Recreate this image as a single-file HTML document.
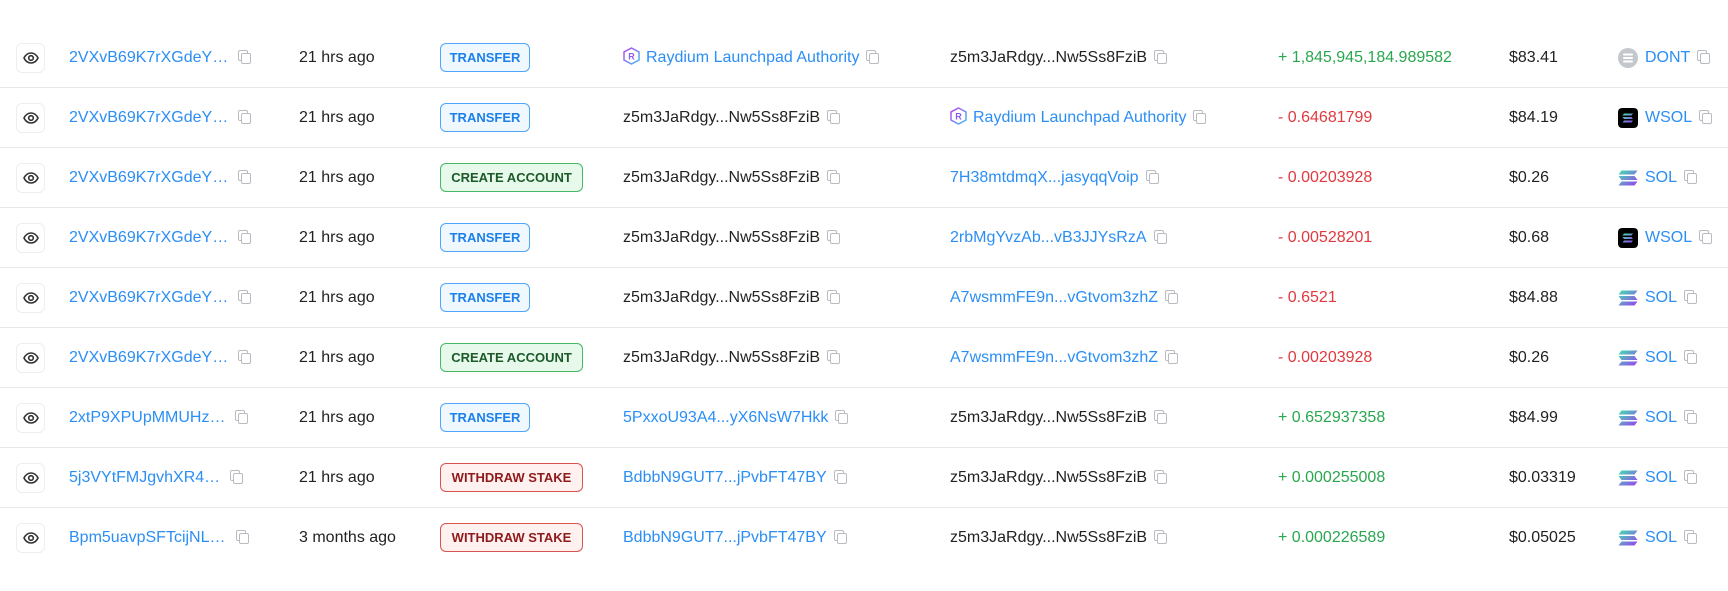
<!DOCTYPE html>
<html><head><meta charset="utf-8"><style>
*{margin:0;padding:0;box-sizing:border-box}
body{width:1728px;height:591px;background:#fff;font-family:"Liberation Sans",Arial,sans-serif;font-size:16px;color:#222;position:relative;overflow:hidden}
.row{position:absolute;left:0;width:1728px;height:60px}
.row.sep{border-bottom:1px solid #e6e8eb}
.c{position:absolute;top:0;height:60px;line-height:60px;white-space:nowrap}
.eye{position:absolute;left:16px;top:15px;width:29px;height:30px;border:1px solid #eceef0;border-radius:6px}
.eye svg{position:absolute;left:6px;top:7px}
.b{color:#2b8ef5}
.g{color:#2aa64f}
.r{color:#e0393e}
.cp{display:inline-block;width:12px;height:13px;position:relative;vertical-align:-1px;margin-left:7px}
.cp:before{content:"";position:absolute;left:0;top:0;width:8px;height:9px;border:1.3px solid #b8bcc2;border-radius:2px}
.cp:after{content:"";position:absolute;left:3px;top:3px;width:8px;height:9px;border:1.3px solid #b8bcc2;border-radius:2px;background:#fff}
.h .cp{margin-left:10px}
.badge{position:absolute;left:440px;top:15px;height:29px;line-height:27px;border-radius:6px;border:1px solid;font-size:13px;font-weight:bold;padding:0 8px;text-align:center}
.tr{width:90px;border-color:#4ea5fb;background:#eff7ff;color:#1c80ea}
.ca{width:143px;border-color:#44b865;background:#e7f9ea;color:#1c5a2a}
.ws{width:143px;border-color:#d95450;background:#fff1f0;color:#8e1b1b}
.ray{display:inline-block;vertical-align:-3px;margin-right:6px}
.tk{position:absolute;left:1618px;top:20px;width:20px;height:20px}
.tl{left:1645px}
</style></head><body>

<div class="row sep" style="top:28px">
<div class="eye"><svg width="16" height="14" viewBox="0 0 16 14"><path d="M1 7C3 3 5.5 2 8 2s5 1 7 5c-2 4-4.5 5-7 5S3 11 1 7z" fill="none" stroke="#333" stroke-width="1.6"/><circle cx="8" cy="7" r="2.3" fill="none" stroke="#333" stroke-width="1.6"/></svg></div>
<span class="c b h" style="left:69px">2VXvB69K7rXGdeY…<span class="cp"></span></span>
<span class="c" style="left:299px">21 hrs ago</span>
<span class="badge tr">TRANSFER</span>
<span class="c b" style="left:623px"><svg class="ray" width="17" height="18" viewBox="0 0 17 18"><defs><linearGradient id="rg" x1="0" y1="0" x2="1" y2="1"><stop offset="0" stop-color="#c040f0"/><stop offset="1" stop-color="#40c0f0"/></linearGradient><linearGradient id="sg" x1="0" y1="0" x2="1" y2="1"><stop offset="0" stop-color="#3fe0b0"/><stop offset="1" stop-color="#9a40f0"/></linearGradient></defs><path d="M8.5 1L16 5v8l-7.5 4L1 13V5z" fill="none" stroke="url(#rg)" stroke-width="1.5"/><text x="5.3" y="12.5" font-size="9" font-family="Liberation Sans" fill="#8a5cf0" font-weight="bold">R</text></svg>Raydium Launchpad Authority<span class="cp"></span></span>
<span class="c" style="left:950px">z5m3JaRdgy...Nw5Ss8FziB<span class="cp"></span></span>
<span class="c g" style="left:1278px">+ 1,845,945,184.989582</span>
<span class="c" style="left:1509px">$83.41</span>
<svg class="tk" viewBox="0 0 20 20"><circle cx="10" cy="10" r="10" fill="#c4c7cc"/><rect x="5" y="5.5" width="10" height="2" rx="1" fill="#fff"/><rect x="5" y="9" width="10" height="2" rx="1" fill="#fff"/><rect x="5" y="12.5" width="10" height="2" rx="1" fill="#fff"/></svg>
<span class="c b tl">DONT<span class="cp"></span></span>
</div>

<div class="row sep" style="top:88px">
<div class="eye"><svg width="16" height="14" viewBox="0 0 16 14"><path d="M1 7C3 3 5.5 2 8 2s5 1 7 5c-2 4-4.5 5-7 5S3 11 1 7z" fill="none" stroke="#333" stroke-width="1.6"/><circle cx="8" cy="7" r="2.3" fill="none" stroke="#333" stroke-width="1.6"/></svg></div>
<span class="c b h" style="left:69px">2VXvB69K7rXGdeY…<span class="cp"></span></span>
<span class="c" style="left:299px">21 hrs ago</span>
<span class="badge tr">TRANSFER</span>
<span class="c" style="left:623px">z5m3JaRdgy...Nw5Ss8FziB<span class="cp"></span></span>
<span class="c b" style="left:950px"><svg class="ray" width="17" height="18" viewBox="0 0 17 18"><path d="M8.5 1L16 5v8l-7.5 4L1 13V5z" fill="none" stroke="url(#rg)" stroke-width="1.5"/><text x="5.3" y="12.5" font-size="9" font-family="Liberation Sans" fill="#8a5cf0" font-weight="bold">R</text></svg>Raydium Launchpad Authority<span class="cp"></span></span>
<span class="c r" style="left:1278px">- 0.64681799</span>
<span class="c" style="left:1509px">$84.19</span>
<svg class="tk" viewBox="0 0 20 20"><rect width="20" height="20" rx="4" fill="#000"/><path d="M6 5.5h9l-1.5 2h-9zM4.5 9h9l1.5 2h-9zM6 12.5h9l-1.5 2h-9z" fill="url(#sg)"/></svg>
<span class="c b tl">WSOL<span class="cp"></span></span>
</div>

<div class="row sep" style="top:148px">
<div class="eye"><svg width="16" height="14" viewBox="0 0 16 14"><path d="M1 7C3 3 5.5 2 8 2s5 1 7 5c-2 4-4.5 5-7 5S3 11 1 7z" fill="none" stroke="#333" stroke-width="1.6"/><circle cx="8" cy="7" r="2.3" fill="none" stroke="#333" stroke-width="1.6"/></svg></div>
<span class="c b h" style="left:69px">2VXvB69K7rXGdeY…<span class="cp"></span></span>
<span class="c" style="left:299px">21 hrs ago</span>
<span class="badge ca">CREATE ACCOUNT</span>
<span class="c" style="left:623px">z5m3JaRdgy...Nw5Ss8FziB<span class="cp"></span></span>
<span class="c b" style="left:950px">7H38mtdmqX...jasyqqVoip<span class="cp"></span></span>
<span class="c r" style="left:1278px">- 0.00203928</span>
<span class="c" style="left:1509px">$0.26</span>
<svg class="tk" viewBox="0 0 20 20"><path d="M3.5 2.5h16l-3 4H0.5zM0.5 8h16l3 4h-16zM3.5 13.5h16l-3 4H0.5z" fill="url(#sg)"/></svg>
<span class="c b tl">SOL<span class="cp"></span></span>
</div>

<div class="row sep" style="top:208px">
<div class="eye"><svg width="16" height="14" viewBox="0 0 16 14"><path d="M1 7C3 3 5.5 2 8 2s5 1 7 5c-2 4-4.5 5-7 5S3 11 1 7z" fill="none" stroke="#333" stroke-width="1.6"/><circle cx="8" cy="7" r="2.3" fill="none" stroke="#333" stroke-width="1.6"/></svg></div>
<span class="c b h" style="left:69px">2VXvB69K7rXGdeY…<span class="cp"></span></span>
<span class="c" style="left:299px">21 hrs ago</span>
<span class="badge tr">TRANSFER</span>
<span class="c" style="left:623px">z5m3JaRdgy...Nw5Ss8FziB<span class="cp"></span></span>
<span class="c b" style="left:950px">2rbMgYvzAb...vB3JJYsRzA<span class="cp"></span></span>
<span class="c r" style="left:1278px">- 0.00528201</span>
<span class="c" style="left:1509px">$0.68</span>
<svg class="tk" viewBox="0 0 20 20"><rect width="20" height="20" rx="4" fill="#000"/><path d="M6 5.5h9l-1.5 2h-9zM4.5 9h9l1.5 2h-9zM6 12.5h9l-1.5 2h-9z" fill="url(#sg)"/></svg>
<span class="c b tl">WSOL<span class="cp"></span></span>
</div>

<div class="row sep" style="top:268px">
<div class="eye"><svg width="16" height="14" viewBox="0 0 16 14"><path d="M1 7C3 3 5.5 2 8 2s5 1 7 5c-2 4-4.5 5-7 5S3 11 1 7z" fill="none" stroke="#333" stroke-width="1.6"/><circle cx="8" cy="7" r="2.3" fill="none" stroke="#333" stroke-width="1.6"/></svg></div>
<span class="c b h" style="left:69px">2VXvB69K7rXGdeY…<span class="cp"></span></span>
<span class="c" style="left:299px">21 hrs ago</span>
<span class="badge tr">TRANSFER</span>
<span class="c" style="left:623px">z5m3JaRdgy...Nw5Ss8FziB<span class="cp"></span></span>
<span class="c b" style="left:950px">A7wsmmFE9n...vGtvom3zhZ<span class="cp"></span></span>
<span class="c r" style="left:1278px">- 0.6521</span>
<span class="c" style="left:1509px">$84.88</span>
<svg class="tk" viewBox="0 0 20 20"><path d="M3.5 2.5h16l-3 4H0.5zM0.5 8h16l3 4h-16zM3.5 13.5h16l-3 4H0.5z" fill="url(#sg)"/></svg>
<span class="c b tl">SOL<span class="cp"></span></span>
</div>

<div class="row sep" style="top:328px">
<div class="eye"><svg width="16" height="14" viewBox="0 0 16 14"><path d="M1 7C3 3 5.5 2 8 2s5 1 7 5c-2 4-4.5 5-7 5S3 11 1 7z" fill="none" stroke="#333" stroke-width="1.6"/><circle cx="8" cy="7" r="2.3" fill="none" stroke="#333" stroke-width="1.6"/></svg></div>
<span class="c b h" style="left:69px">2VXvB69K7rXGdeY…<span class="cp"></span></span>
<span class="c" style="left:299px">21 hrs ago</span>
<span class="badge ca">CREATE ACCOUNT</span>
<span class="c" style="left:623px">z5m3JaRdgy...Nw5Ss8FziB<span class="cp"></span></span>
<span class="c b" style="left:950px">A7wsmmFE9n...vGtvom3zhZ<span class="cp"></span></span>
<span class="c r" style="left:1278px">- 0.00203928</span>
<span class="c" style="left:1509px">$0.26</span>
<svg class="tk" viewBox="0 0 20 20"><path d="M3.5 2.5h16l-3 4H0.5zM0.5 8h16l3 4h-16zM3.5 13.5h16l-3 4H0.5z" fill="url(#sg)"/></svg>
<span class="c b tl">SOL<span class="cp"></span></span>
</div>

<div class="row sep" style="top:388px">
<div class="eye"><svg width="16" height="14" viewBox="0 0 16 14"><path d="M1 7C3 3 5.5 2 8 2s5 1 7 5c-2 4-4.5 5-7 5S3 11 1 7z" fill="none" stroke="#333" stroke-width="1.6"/><circle cx="8" cy="7" r="2.3" fill="none" stroke="#333" stroke-width="1.6"/></svg></div>
<span class="c b h" style="left:69px">2xtP9XPUpMMUHz…<span class="cp"></span></span>
<span class="c" style="left:299px">21 hrs ago</span>
<span class="badge tr">TRANSFER</span>
<span class="c b" style="left:623px">5PxxoU93A4...yX6NsW7Hkk<span class="cp"></span></span>
<span class="c" style="left:950px">z5m3JaRdgy...Nw5Ss8FziB<span class="cp"></span></span>
<span class="c g" style="left:1278px">+ 0.652937358</span>
<span class="c" style="left:1509px">$84.99</span>
<svg class="tk" viewBox="0 0 20 20"><path d="M3.5 2.5h16l-3 4H0.5zM0.5 8h16l3 4h-16zM3.5 13.5h16l-3 4H0.5z" fill="url(#sg)"/></svg>
<span class="c b tl">SOL<span class="cp"></span></span>
</div>

<div class="row sep" style="top:448px">
<div class="eye"><svg width="16" height="14" viewBox="0 0 16 14"><path d="M1 7C3 3 5.5 2 8 2s5 1 7 5c-2 4-4.5 5-7 5S3 11 1 7z" fill="none" stroke="#333" stroke-width="1.6"/><circle cx="8" cy="7" r="2.3" fill="none" stroke="#333" stroke-width="1.6"/></svg></div>
<span class="c b h" style="left:69px">5j3VYtFMJgvhXR4…<span class="cp"></span></span>
<span class="c" style="left:299px">21 hrs ago</span>
<span class="badge ws">WITHDRAW STAKE</span>
<span class="c b" style="left:623px">BdbbN9GUT7...jPvbFT47BY<span class="cp"></span></span>
<span class="c" style="left:950px">z5m3JaRdgy...Nw5Ss8FziB<span class="cp"></span></span>
<span class="c g" style="left:1278px">+ 0.000255008</span>
<span class="c" style="left:1509px">$0.03319</span>
<svg class="tk" viewBox="0 0 20 20"><path d="M3.5 2.5h16l-3 4H0.5zM0.5 8h16l3 4h-16zM3.5 13.5h16l-3 4H0.5z" fill="url(#sg)"/></svg>
<span class="c b tl">SOL<span class="cp"></span></span>
</div>

<div class="row" style="top:508px">
<div class="eye"><svg width="16" height="14" viewBox="0 0 16 14"><path d="M1 7C3 3 5.5 2 8 2s5 1 7 5c-2 4-4.5 5-7 5S3 11 1 7z" fill="none" stroke="#333" stroke-width="1.6"/><circle cx="8" cy="7" r="2.3" fill="none" stroke="#333" stroke-width="1.6"/></svg></div>
<span class="c b h" style="left:69px">Bpm5uavpSFTcijNL…<span class="cp"></span></span>
<span class="c" style="left:299px">3 months ago</span>
<span class="badge ws">WITHDRAW STAKE</span>
<span class="c b" style="left:623px">BdbbN9GUT7...jPvbFT47BY<span class="cp"></span></span>
<span class="c" style="left:950px">z5m3JaRdgy...Nw5Ss8FziB<span class="cp"></span></span>
<span class="c g" style="left:1278px">+ 0.000226589</span>
<span class="c" style="left:1509px">$0.05025</span>
<svg class="tk" viewBox="0 0 20 20"><path d="M3.5 2.5h16l-3 4H0.5zM0.5 8h16l3 4h-16zM3.5 13.5h16l-3 4H0.5z" fill="url(#sg)"/></svg>
<span class="c b tl">SOL<span class="cp"></span></span>
</div>

</body></html>
